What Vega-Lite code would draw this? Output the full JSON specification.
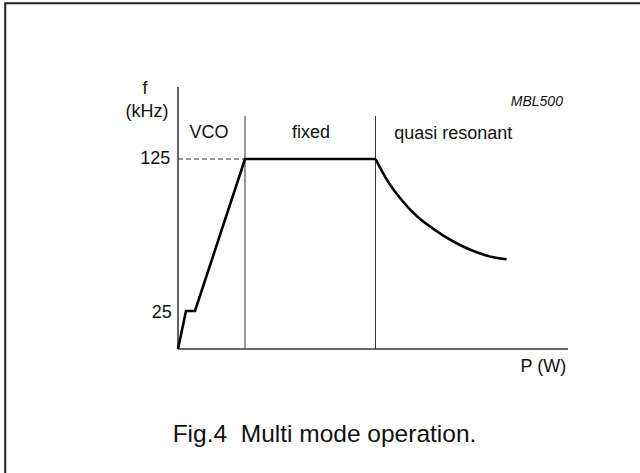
{
  "$schema": "https://vega.github.io/schema/vega-lite/v6.json",
  "width": 640,
  "height": 473,
  "autosize": {"type": "fit", "contains": "padding"},
  "padding": 0,
  "background": "white",
  "config": {"view": {"stroke": null}},
  "datasets": {
    "curve": [
      {"seg": "piecewise", "P": 0, "f": 0},
      {"seg": "piecewise", "P": 2.05, "f": 25},
      {"seg": "piecewise", "P": 4.36, "f": 25},
      {"seg": "piecewise", "P": 17.18, "f": 125},
      {"seg": "piecewise", "P": 50.64, "f": 125},
      {"seg": "resonant", "P": 50.64, "f": 125},
      {"seg": "resonant", "P": 53.50, "f": 111.6},
      {"seg": "resonant", "P": 56.92, "f": 99.3},
      {"seg": "resonant", "P": 61.20, "f": 87.5},
      {"seg": "resonant", "P": 63.76, "f": 82.2},
      {"seg": "resonant", "P": 68.03, "f": 74.6},
      {"seg": "resonant", "P": 72.31, "f": 68.4},
      {"seg": "resonant", "P": 76.58, "f": 63.6},
      {"seg": "resonant", "P": 80.85, "f": 60.3},
      {"seg": "resonant", "P": 84.27, "f": 59.0}
    ],
    "rules": [
      {"kind": "axis", "P": 0, "P2": 0, "f": 0, "f2": 172.4},
      {"kind": "axis", "P": 0, "P2": 100, "f": 0, "f2": 0},
      {"kind": "sep", "P": 17.18, "P2": 17.18, "f": 0, "f2": 153.3},
      {"kind": "sep", "P": 50.64, "P2": 50.64, "f": 0, "f2": 153.3},
      {"kind": "dash", "P": 0, "P2": 17.18, "f": 125, "f2": 125}
    ],
    "frame": [
      {"P": -44.3, "P2": 200, "f": 227.4, "f2": -300}
    ],
    "labels": [
      {"role": "center", "text": "f", "P": -8.46, "f": 171},
      {"role": "center", "text": "(kHz)", "P": -7.95, "f": 155.9},
      {"role": "center", "text": "VCO", "P": 7.95, "f": 142.1},
      {"role": "center", "text": "fixed", "P": 34.1, "f": 142.1},
      {"role": "center", "text": "quasi resonant", "P": 70.6, "f": 141.4},
      {"role": "center", "text": "P (W)", "P": 93.7, "f": -11.8},
      {"role": "tick", "text": "125", "P": -2.0, "f": 125},
      {"role": "tick", "text": "25", "P": -1.6, "f": 23.5},
      {"role": "code", "text": "MBL500", "P": 98.7, "f": 162.5},
      {"role": "caption", "text": "Fig.4\u00a0\u00a0Multi mode operation.", "P": 37.56, "f": -56.6}
    ]
  },
  "encoding": {
    "x": {"field": "P", "type": "quantitative", "axis": null,
          "scale": {"domain": [-45.641, 118.462], "nice": false, "zero": false}},
    "y": {"field": "f", "type": "quantitative", "axis": null,
          "scale": {"domain": [-81.58, 229.6], "nice": false, "zero": false}}
  },
  "layer": [
    {
      "data": {"name": "frame"},
      "mark": {"type": "rect", "fill": null, "stroke": "#222", "strokeWidth": 2, "clip": true},
      "encoding": {"x2": {"field": "P2"}, "y2": {"field": "f2"}}
    },
    {
      "data": {"name": "rules"},
      "transform": [{"filter": "datum.kind == 'axis'"}],
      "mark": {"type": "rule", "stroke": "#3a3a3a", "strokeWidth": 1.6},
      "encoding": {"x2": {"field": "P2"}, "y2": {"field": "f2"}}
    },
    {
      "data": {"name": "rules"},
      "transform": [{"filter": "datum.kind == 'sep'"}],
      "mark": {"type": "rule", "stroke": "#333", "strokeWidth": 1},
      "encoding": {"x2": {"field": "P2"}, "y2": {"field": "f2"}}
    },
    {
      "data": {"name": "rules"},
      "transform": [{"filter": "datum.kind == 'dash'"}],
      "mark": {"type": "rule", "stroke": "#333", "strokeWidth": 1, "strokeDash": [5, 3]},
      "encoding": {"x2": {"field": "P2"}, "y2": {"field": "f2"}}
    },
    {
      "data": {"name": "curve"},
      "transform": [{"filter": "datum.seg == 'piecewise'"}],
      "mark": {"type": "line", "color": "#000", "strokeWidth": 2.6, "interpolate": "linear", "strokeJoin": "miter"},
      "encoding": {"order": {"field": "P", "type": "quantitative"}}
    },
    {
      "data": {"name": "curve"},
      "transform": [{"filter": "datum.seg == 'resonant'"}],
      "mark": {"type": "line", "color": "#000", "strokeWidth": 2.6, "interpolate": "monotone"},
      "encoding": {"order": {"field": "P", "type": "quantitative"}}
    },
    {
      "data": {"name": "labels"},
      "transform": [{"filter": "datum.role == 'center'"}],
      "mark": {"type": "text", "font": "Liberation Sans", "fontSize": 18, "color": "#111", "align": "center", "baseline": "middle"},
      "encoding": {"text": {"field": "text"}}
    },
    {
      "data": {"name": "labels"},
      "transform": [{"filter": "datum.role == 'tick'"}],
      "mark": {"type": "text", "font": "Liberation Sans", "fontSize": 18, "color": "#111", "align": "right", "baseline": "middle"},
      "encoding": {"text": {"field": "text"}}
    },
    {
      "data": {"name": "labels"},
      "transform": [{"filter": "datum.role == 'code'"}],
      "mark": {"type": "text", "font": "Liberation Sans", "fontSize": 14, "fontStyle": "italic", "color": "#111", "align": "right", "baseline": "middle"},
      "encoding": {"text": {"field": "text"}}
    },
    {
      "data": {"name": "labels"},
      "transform": [{"filter": "datum.role == 'caption'"}],
      "mark": {"type": "text", "font": "Liberation Sans", "fontSize": 24.5, "color": "#111", "align": "center", "baseline": "middle"},
      "encoding": {"text": {"field": "text"}}
    }
  ]
}
